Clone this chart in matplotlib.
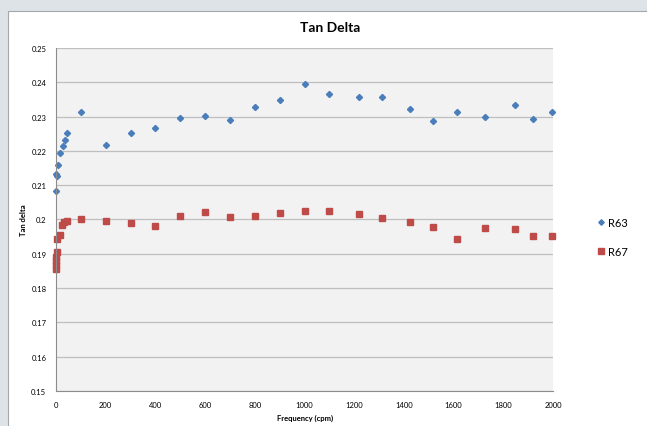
import matplotlib.pyplot as plt
from matplotlib.patches import Rectangle

plt.rcParams['font.family'] = ['Lato', 'DejaVu Sans']

freq_high = [100, 200, 300, 400, 500, 600, 700, 800, 900, 1000, 1100,
             1218, 1310, 1423, 1516, 1613, 1726, 1847, 1919, 1996]

r63_low_f = [1, 2, 3, 8, 17, 28, 35, 45]
r63_low = [0.2083, 0.2133, 0.2128, 0.2158, 0.2195, 0.2213, 0.2231, 0.2251]
r63_high = [0.2313, 0.2216, 0.2251, 0.2266, 0.2295, 0.2301, 0.2289, 0.2327,
            0.2348, 0.2395, 0.2365, 0.2357, 0.2357, 0.2322, 0.2287, 0.2313,
            0.2298, 0.2333, 0.2292, 0.2313]

r67_low_f = [1, 1, 2, 2, 3, 5, 16, 25, 32, 45]
r67_low = [0.1857, 0.1868, 0.1880, 0.1892, 0.1904, 0.1944, 0.1956, 0.1983,
           0.1994, 0.1997]
r67_high = [0.2000, 0.1997, 0.1991, 0.1982, 0.2009, 0.2023, 0.2006, 0.2009,
            0.2020, 0.2026, 0.2026, 0.2015, 0.2003, 0.1994, 0.1977, 0.1944,
            0.1974, 0.1971, 0.1953, 0.1953]

fig = plt.figure(figsize=(6.47, 4.27), dpi=100)
fig.patch.set_facecolor('#dee3e8')
# white chart frame, behind the axes
fig.patches.append(Rectangle((8 / 647, -0.01), 1.0, 1 - 12 / 427 + 0.01,
                             transform=fig.transFigure, facecolor='white',
                             edgecolor='#a6a6a6', linewidth=0.8, zorder=-5))

ax = fig.add_axes([56 / 647, 35 / 427, 497 / 647, 343 / 427])
ax.set_facecolor('#f2f2f2')

ax.plot(r63_low_f + freq_high, r63_low + r63_high, linestyle='none',
        marker='D', markersize=3.1, color='#4a7ebb', label='R63', clip_on=False)
ax.plot(r67_low_f + freq_high, r67_low + r67_high, linestyle='none',
        marker='s', markersize=4.8, color='#be4b48', label='R67', clip_on=False)

ax.set_xlim(0, 2000)
ax.set_ylim(0.15, 0.25)
ax.set_xticks(range(0, 2001, 200))
ax.set_yticks([0.15 + i * 0.01 for i in range(11)])
ax.set_yticklabels(['0.15', '0.16', '0.17', '0.18', '0.19', '0.2', '0.21',
                    '0.22', '0.23', '0.24', '0.25'])
ax.grid(axis='y', color='#bfbfbf', linewidth=0.9)
ax.set_axisbelow(True)
for s in ['top', 'right']:
    ax.spines[s].set_visible(False)
for s in ['left', 'bottom']:
    ax.spines[s].set_color('#8c8c8c')
ax.tick_params(length=0, labelsize=5.5, pad=7)

fig.text(330 / 647, 1 - 28 / 427, 'Tan Delta', ha='center', va='center',
         fontsize=10, fontweight='bold')
fig.text(305 / 647, 1 - 418 / 427, 'Frequency (cpm)', ha='center',
         va='center', fontsize=5.5, fontweight='bold')
fig.text(23 / 647, 1 - 220 / 427, 'Tan delta', ha='center', va='center',
         fontsize=5.5, fontweight='bold', rotation=90)

fig.legend(loc='center left', bbox_to_anchor=(585 / 647, 1 - 238 / 427),
           frameon=False, fontsize=8, handletextpad=0.2, labelspacing=1.6,
           handlelength=1, markerscale=0.9)

fig.savefig('out.png', dpi=100, facecolor=fig.get_facecolor())
